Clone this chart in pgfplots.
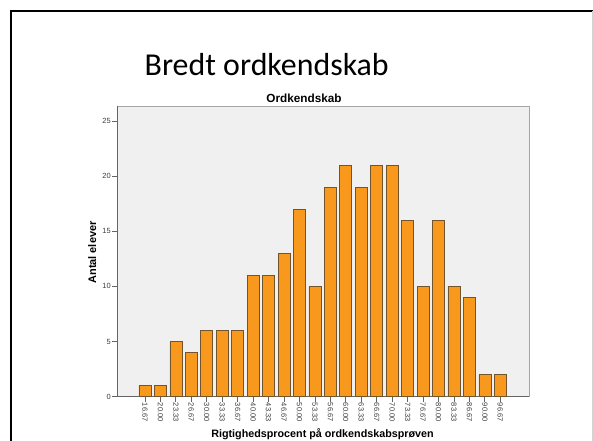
\documentclass[border=0pt]{standalone}
\usepackage{pgfplots}
\pgfplotsset{compat=1.18}
\usepackage{fontspec}
\setmainfont{Liberation Sans}
\newfontfamily\slidefont{Carlito}
\definecolor{barfill}{RGB}{248,152,29}
\definecolor{barline}{RGB}{115,85,45}
\definecolor{plotbg}{RGB}{240,240,240}
\definecolor{axline}{RGB}{100,100,100}
\definecolor{frameline}{RGB}{165,165,165}
\definecolor{ticktext}{RGB}{60,60,60}
\begin{document}
\begin{tikzpicture}[x=1bp,y=1bp]
\path[use as bounding box] (0,0) rectangle (593,441);
\fill[white] (0,0) rectangle (593,441);
\draw[line width=2.5bp] (11,0) -- (11,430) -- (593,430);
\draw[gray!35, line width=0.8bp] (592,0) -- (592,430);
\node[anchor=base, inner sep=0pt, font=\slidefont\fontsize{32}{36}\selectfont] at (266.7,365.3) {Bredt ordkendskab};
\begin{axis}[
  at={(117bp,44.3bp)}, anchor=south west, scale only axis,
  width=412bp, height=290.7bp,
  xmin=-1.81, xmax=24.86, ymin=0, ymax=26.36,
  ybar, bar width=12bp,
  axis x line*=bottom, axis y line*=left,
  axis line style={axline, line width=0.8bp, -},
  axis background/.style={fill=plotbg, draw=frameline, line width=0.8bp},
  /pgf/number format/assume math mode=true,
  xtick={0,...,23},
  xticklabels={16.67,20.00,23.33,26.67,30.00,33.33,36.67,40.00,43.33,46.67,50.00,53.33,56.67,60.00,63.33,66.67,70.00,73.33,76.67,80.00,83.33,86.67,90.00,96.67},
  ytick={0,5,10,15,20,25},
  tick align=outside, major tick length=5bp,
  tick style={axline, line width=0.8bp},
  tick label style={font=\fontsize{7.5}{8}\selectfont, text=ticktext},
  xticklabel style={rotate=-90, anchor=west, inner sep=1bp},
  yticklabel style={inner sep=1bp},
]
\addplot[fill=barfill, draw=barline, line width=0.6bp] coordinates {
(0,1) (1,1) (2,5) (3,4) (4,6) (5,6) (6,6) (7,11) (8,11) (9,13) (10,17) (11,10)
(12,19) (13,21) (14,19) (15,21) (16,21) (17,16) (18,10) (19,16) (20,10) (21,9) (22,2) (23,2)};
\end{axis}
\node[anchor=base, inner sep=0pt, font=\bfseries\fontsize{11.8}{13}\selectfont] at (304,338.5) {Ordkendskab};
\node[anchor=base, inner sep=0pt, rotate=90, font=\bfseries\fontsize{11}{13}\selectfont] at (96,188.5) {Antal elever};
\node[anchor=base, inner sep=0pt, font=\bfseries\fontsize{10.8}{12}\selectfont] at (322.5,3.7) {Rigtighedsprocent på ordkendskabsprøven};
\end{tikzpicture}
\end{document}
